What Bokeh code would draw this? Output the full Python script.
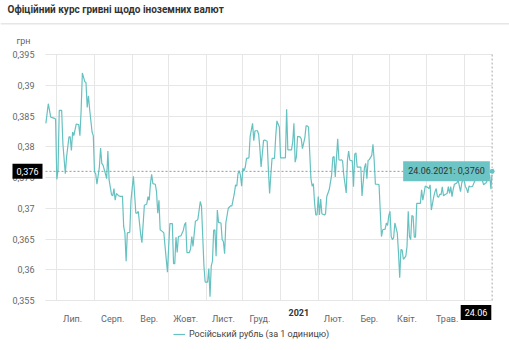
import pandas as pd
from bokeh.plotting import figure
from bokeh.models import (ColumnDataSource, FixedTicker, CustomJSTickFormatter,
                          Label, BoxAnnotation, Legend, LegendItem, Range1d)
from bokeh.embed import file_html
from bokeh.resources import INLINE

title_text = "Офіційний курс гривні щодо іноземних валют"
unit_text = "грн"
series_name = "Російський рубль (за 1 одиницю)"

start_date = "2020-06-22"
day_offsets = [
    0, 2, 4, 6, 8, 9, 10, 11, 13, 14, 16, 17, 19, 20, 21, 22, 23, 25, 27, 28,
    29, 30, 32, 33, 34, 35, 36, 38, 39, 40, 41, 42, 44, 45, 46, 47, 49, 50, 51, 52,
    54, 55, 56, 57, 58, 60, 62, 63, 64, 65, 66, 67, 69, 70, 72, 74, 75, 76, 78, 79,
    81, 83, 84, 85, 86, 87, 88, 90, 91, 92, 93, 94, 96, 97, 99, 100, 101, 102, 104, 105,
    106, 107, 108, 109, 111, 113, 114, 115, 116, 118, 119, 120, 121, 123, 124, 125, 127, 128, 130, 131,
    133, 134, 135, 136, 137, 138, 139, 140, 141, 142, 144, 145, 146, 147, 148, 150, 152, 153, 155, 156,
    157, 158, 159, 160, 161, 162, 163, 164, 165, 167, 168, 170, 171, 172, 174, 175, 176, 177, 179, 180,
    182, 183, 184, 185, 186, 188, 189, 190, 192, 193, 195, 197, 198, 199, 200, 202, 203, 204, 205, 206,
    207, 209, 210, 211, 213, 214, 215, 216, 218, 219, 220, 221, 222, 223, 224, 225, 226, 227, 229, 230,
    231, 233, 235, 236, 237, 238, 240, 241, 242, 243, 244, 245, 247, 248, 249, 250, 252, 253, 254, 255,
    256, 258, 259, 260, 262, 263, 264, 265, 266, 268, 269, 270, 271, 273, 274, 275, 276, 277, 279, 280,
    281, 282, 283, 284, 285, 286, 287, 289, 290, 291, 292, 293, 294, 296, 297, 298, 299, 300, 301, 302,
    303, 304, 305, 308, 309, 310, 311, 312, 314, 315, 316, 317, 319, 320, 321, 322, 323, 324, 325, 326,
    327, 328, 330, 331, 332, 333, 334, 335, 336, 337, 338, 339, 341, 342, 343, 344, 345, 346, 347, 348,
    349, 350, 351, 353, 354, 355, 356, 357, 358, 359, 360, 361, 362, 363, 364, 365, 366, 367,
]
rate = [
    0.3838, 0.3870, 0.3848, 0.3847, 0.3845, 0.3747, 0.3762, 0.3859, 0.3859, 0.3805,
    0.3756, 0.3783, 0.3816, 0.3816, 0.3794, 0.3824, 0.3818, 0.3837, 0.3836, 0.3818,
    0.3859, 0.3920, 0.3906, 0.3904, 0.3864, 0.3883, 0.3861, 0.3824, 0.3818, 0.3759,
    0.3756, 0.3739, 0.3767, 0.3798, 0.3773, 0.3770, 0.3756, 0.3748, 0.3793, 0.3746,
    0.3722, 0.3720, 0.3732, 0.3713, 0.3724, 0.3720, 0.3719, 0.3720, 0.3670, 0.3660,
    0.3614, 0.3660, 0.3661, 0.3713, 0.3752, 0.3692, 0.3692, 0.3695, 0.3657, 0.3644,
    0.3705, 0.3707, 0.3719, 0.3713, 0.3740, 0.3755, 0.3740, 0.3739, 0.3727, 0.3692,
    0.3713, 0.3665, 0.3662, 0.3660, 0.3617, 0.3596, 0.3638, 0.3675, 0.3675, 0.3610,
    0.3610, 0.3653, 0.3628, 0.3654, 0.3655, 0.3664, 0.3673, 0.3677, 0.3628, 0.3628,
    0.3634, 0.3654, 0.3638, 0.3679, 0.3680, 0.3682, 0.3711, 0.3703, 0.3606, 0.3580,
    0.3580, 0.3602, 0.3556, 0.3606, 0.3614, 0.3664, 0.3665, 0.3622, 0.3697, 0.3677,
    0.3676, 0.3649, 0.3646, 0.3626, 0.3676, 0.3700, 0.3704, 0.3704, 0.3724, 0.3738,
    0.3736, 0.3756, 0.3761, 0.3754, 0.3736, 0.3765, 0.3761, 0.3767, 0.3781, 0.3782,
    0.3817, 0.3838, 0.3810, 0.3826, 0.3826, 0.3820, 0.3797, 0.3767, 0.3810, 0.3811,
    0.3809, 0.3762, 0.3724, 0.3754, 0.3781, 0.3781, 0.3816, 0.3842, 0.3832, 0.3782,
    0.3782, 0.3782, 0.3861, 0.3795, 0.3795, 0.3795, 0.3808, 0.3838, 0.3775, 0.3783,
    0.3817, 0.3816, 0.3813, 0.3797, 0.3815, 0.3834, 0.3834, 0.3832, 0.3748, 0.3736,
    0.3740, 0.3708, 0.3689, 0.3689, 0.3719, 0.3689, 0.3715, 0.3691, 0.3689, 0.3691,
    0.3719, 0.3730, 0.3754, 0.3783, 0.3784, 0.3751, 0.3813, 0.3779, 0.3778, 0.3779,
    0.3777, 0.3754, 0.3725, 0.3778, 0.3793, 0.3778, 0.3777, 0.3735, 0.3788, 0.3790,
    0.3767, 0.3767, 0.3767, 0.3720, 0.3766, 0.3773, 0.3748, 0.3778, 0.3779, 0.3786,
    0.3804, 0.3778, 0.3739, 0.3739, 0.3738, 0.3695, 0.3654, 0.3665, 0.3666, 0.3676,
    0.3672, 0.3688, 0.3695, 0.3654, 0.3649, 0.3652, 0.3676, 0.3660, 0.3627, 0.3587,
    0.3633, 0.3632, 0.3617, 0.3622, 0.3638, 0.3695, 0.3654, 0.3649, 0.3688, 0.3687,
    0.3653, 0.3653, 0.3708, 0.3708, 0.3730, 0.3713, 0.3724, 0.3736, 0.3734, 0.3732,
    0.3738, 0.3697, 0.3719, 0.3727, 0.3732, 0.3719, 0.3718, 0.3723, 0.3722, 0.3735,
    0.3720, 0.3722, 0.3724, 0.3735, 0.3724, 0.3735, 0.3719, 0.3731, 0.3739, 0.3740,
    0.3741, 0.3746, 0.3727, 0.3741, 0.3747, 0.3745, 0.3735, 0.3732, 0.3725, 0.3736,
    0.3735, 0.3735, 0.3736, 0.3746, 0.3747, 0.3747, 0.3746, 0.3747, 0.3747, 0.3745,
    0.3738, 0.3740, 0.3741, 0.3746, 0.3748, 0.3754, 0.3731, 0.3760,
]

month_starts = ["2020-07-01", "2020-08-01", "2020-09-01", "2020-10-01", "2020-11-01",
                "2020-12-01", "2021-01-01", "2021-02-01", "2021-03-01", "2021-04-01",
                "2021-05-01", "2021-06-01"]
label_dates = ["2020-07-14", "2020-08-16", "2020-09-15", "2020-10-15", "2020-11-15",
               "2020-12-15", "2021-01-16", "2021-02-14", "2021-03-15", "2021-04-15",
               "2021-05-18"]
month_labels = ["Лип.", "Серп.", "Вер.", "Жовт.", "Лист.", "Груд.", "2021", "Лют.",
                "Бер.", "Квіт.", "Трав."]
year_label = "2021"
y_ticks = [0.355, 0.36, 0.365, 0.37, 0.375, 0.38, 0.385, 0.39, 0.395]
last_date_label = "24.06"
last_value = 0.376
last_value_label = "0,376"
tooltip_text = "24.06.2021: 0,3760"

LINE = "#66c1c1"
TIP = "#6cc4c4"
GRID = "#e6e6e6"
FONT = "Roboto"

W, H = 509, 350
PL, PR, PT, PB = 45, 492, 54, 300   # plot area in canvas pixels

dates = pd.to_datetime(start_date) + pd.to_timedelta(day_offsets, unit="D")
src = ColumnDataSource(dict(date=dates, rate=rate))


def ms(d):
    return float(pd.Timestamp(d).value / 1e6)


DAY = 864e5
x0 = ms(start_date) - 0.3 * DAY
x_last = ms(dates[-1])
x1 = x_last + 0.3 * DAY
y0, y1 = y_ticks[0], y_ticks[-1]

sx = (x1 - x0) / (PR - PL)
sy = (y1 - y0) / (PB - PT)
xr = Range1d(x0 - PL * sx, x1 + (W - PR) * sx)
yr = Range1d(y0 - (H - PB) * sy, y1 + PT * sy)

p = figure(width=W, height=H, x_axis_type="datetime", x_range=xr, y_range=yr,
           output_backend="svg", toolbar_location=None, title=None, min_border=0)
p.outline_line_color = None
p.background_fill_color = "white"
p.border_fill_color = "white"

# axes fixed on the plot-area edges
p.xaxis.fixed_location = y0
p.yaxis.fixed_location = x0
tick_ms = [ms(d) for d in label_dates]
p.xaxis.ticker = FixedTicker(ticks=tick_ms)
p.xaxis.major_label_overrides = {t: ("" if lab == year_label else lab)
                                 for t, lab in zip(tick_ms, month_labels)}
p.xaxis.bounds = (x0, x1)
p.xaxis.major_tick_line_color = None
p.xaxis.minor_tick_line_color = None
p.xaxis.axis_line_color = GRID
p.xaxis.major_label_standoff = 7
p.xaxis.major_label_text_font = FONT
p.xaxis.major_label_text_font_size = "9px"
p.xaxis.major_label_text_color = "#666666"

p.yaxis.ticker = FixedTicker(ticks=y_ticks)
p.yaxis.formatter = CustomJSTickFormatter(
    code="return parseFloat(tick.toFixed(3)).toString().replace('.', ',');")
p.yaxis.major_tick_line_color = None
p.yaxis.minor_tick_line_color = None
p.yaxis.axis_line_color = None
p.yaxis.major_label_standoff = 5
p.yaxis.major_label_text_font = FONT
p.yaxis.major_label_text_font_size = "9px"
p.yaxis.major_label_text_color = "#666666"

p.xgrid.ticker = FixedTicker(ticks=[ms(d) for d in month_starts])
p.xgrid.cross_bounds = (y0, y1)
p.xgrid.grid_line_color = GRID
p.ygrid.cross_bounds = (x0, x1)
p.ygrid.grid_line_color = GRID

line_r = p.line("date", "rate", source=src, line_color=LINE, line_width=1.2)

# crosshair
p.segment(x0=[x0], y0=[last_value], x1=[x1], y1=[last_value],
          line_color="#999999", line_dash="2 2", line_width=1)
p.segment(x0=[x_last], y0=[y0], x1=[x_last], y1=[y1],
          line_color="#aaaaaa", line_dash="2 2", line_width=1)
p.scatter([dates[-1]], [rate[-1]], size=6, fill_color=LINE, line_color="white",
          line_width=1)

# header
p.add_layout(BoxAnnotation(left=0, right=W, bottom=H - 24, top=H - 22.5,
                           left_units="screen", right_units="screen",
                           top_units="screen", bottom_units="screen",
                           fill_color="#e6e6e6", fill_alpha=1, line_color=None))
p.add_layout(Label(x=7, y=H - 9, x_units="screen", y_units="screen", text=title_text,
                   text_font=FONT, text_font_size="10px", text_font_style="bold",
                   text_color="#333333", text_baseline="middle", text_align="left"))
p.add_layout(Label(x=16, y=H - 40, x_units="screen", y_units="screen", text=unit_text,
                   text_font=FONT, text_font_size="9px", text_color="#666666",
                   text_baseline="middle", text_align="left"))

# year label in bold
p.add_layout(Label(x=ms(label_dates[month_labels.index(year_label)]), y=H - 312,
                   x_units="data", y_units="screen", text=year_label,
                   text_font=FONT, text_font_size="9px", text_font_style="bold",
                   text_color="#333333", text_baseline="middle", text_align="center"))

# crosshair labels
p.add_layout(Label(x=27, y=last_value, x_units="screen", y_units="data",
                   text=last_value_label, text_font=FONT, text_font_size="9px",
                   text_color="white", text_baseline="middle", text_align="center",
                   background_fill_color="black", padding=4))
p.add_layout(Label(x=475.5, y=H - 312, x_units="screen", y_units="screen",
                   text=last_date_label, text_font=FONT, text_font_size="9px",
                   text_color="white", text_baseline="middle", text_align="center",
                   background_fill_color="black", padding=4))
p.add_layout(Label(x=446, y=last_value, x_units="screen", y_units="data",
                   text=tooltip_text, text_font=FONT, text_font_size="9px",
                   text_color="#333333", text_baseline="middle", text_align="center",
                   background_fill_color=TIP, padding=5))

legend = Legend(items=[LegendItem(label=series_name, renderers=[line_r])],
                location=(173, H - 339), orientation="horizontal",
                glyph_width=12, glyph_height=10, label_height=10, label_standoff=4,
                padding=0, margin=0, border_line_color=None, background_fill_alpha=0,
                label_text_font=FONT, label_text_font_size="9px",
                label_text_color="#444444")
p.add_layout(legend, "center")

open("out.html", "w").write(file_html(p, INLINE))
